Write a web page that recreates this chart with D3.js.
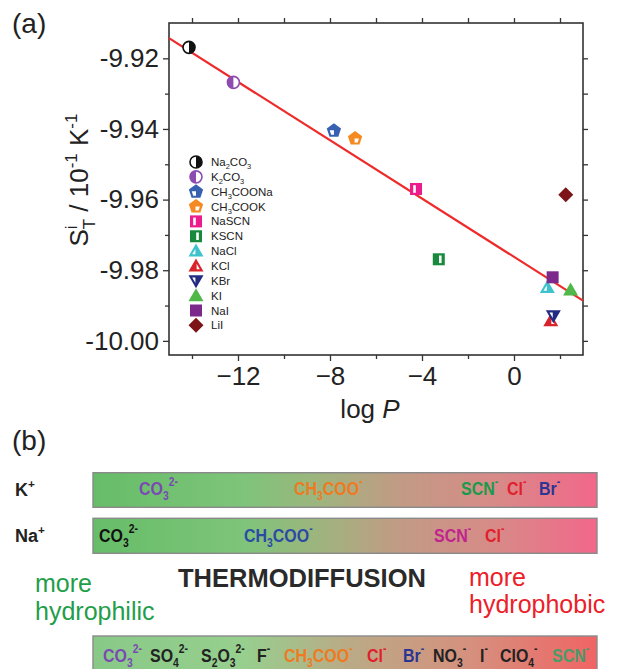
<!DOCTYPE html>
<html>
<head>
<meta charset="utf-8">
<script src="https://cdn.jsdelivr.net/npm/d3@7"></script>
<style>
html,body{margin:0;padding:0;background:#fff;}
svg{display:block;font-family:"Liberation Sans",Arial,sans-serif;}
</style>
</head>
<body>
<svg id="chart" width="621" height="669"></svg>
<script>
// ---------------- DATA ----------------
const salts   = ["Na{_2}CO{_3}","K{_2}CO{_3}","CH{_3}COONa","CH{_3}COOK","NaSCN","KSCN","NaCl","KCl","KBr","KI","NaI","LiI"];
const logP    = [-14.13, -12.2, -7.83, -6.91, -4.26, -3.27, 1.45, 1.60, 1.71, 2.46, 1.68, 2.25];
const sT      = [-9.9169, -9.9268, -9.9405, -9.9427, -9.9570, -9.9769, -9.9849, -9.9943, -9.9929, -9.9856, -9.9820, -9.9586];
const fitX    = [-15, 3];
const fitY    = [-9.9143, -9.9886];
const xMajorTicks = [-12, -8, -4, 0];
const xMinorTicks = [-14, -10, -6, -2, 2];
const yMajorTicks = [-9.92, -9.94, -9.96, -9.98, -10.00];
const yMinorTicks = [-9.93, -9.95, -9.97, -9.99];

const kIons   = ["CO{_3}{^2-}", "CH{_3}COO{^-}", "SCN{^-}", "Cl{^-}", "Br{^-}"];
const naIons  = ["CO{_3}{^2-}", "CH{_3}COO{^-}", "SCN{^-}", "Cl{^-}"];
const hofIons = ["CO{_3}{^2-}", "SO{_4}{^2-}", "S{_2}O{_3}{^2-}", "F{^-}", "CH{_3}COO{^-}", "Cl{^-}", "Br{^-}", "NO{_3}{^-}", "I{^-}", "ClO{_4}{^-}", "SCN{^-}"];

// ---------------- STYLE / LAYOUT ----------------
const markerTypes  = ["circR","circL","pentA","pentB","sqBarL","sqBarR","triL","triR","triDown","tri","sq","diamond"];
const markerColors = ["#111111","#8e4bb0","#3760b0","#f58a22","#ec1c8c","#178a3e","#3ec3cc","#d9232b","#232a82","#4fb848","#7b2a8c","#7d1518"];
const kColors   = ["#7a4ab2","#ee7a22","#1a9a4c","#e0202c","#2b3592"];
const naColors  = ["#111111","#2b4aa4","#c0248e","#e0202c"];
const hofColors = ["#7a4ab2","#222","#222","#222","#ee7a22","#e0202c","#2b3592","#222","#222","#222","#4a9a6a"];
const kPos   = [139, 294, 461, 507, 539];
const naPos  = [99, 244, 434, 485];
const hofPos = [103, 150, 201, 257, 284, 367, 403, 433, 480, 500, 552];

const svg = d3.select("#chart");
const M = {left:169, top:23, right:583, bottom:355};
const x = d3.scaleLinear().domain([-15, 3]).range([M.left, M.right]);
const y = d3.scaleLinear().domain([-10.004, -9.910]).range([M.bottom, M.top]);

// formula helper
function formula(textSel, str, fs) {
  const re = /\{([_^])([^}]*)\}|([^{]+)/g;
  let m, cur = 0;
  while ((m = re.exec(str)) !== null) {
    let t, target, size;
    if (m[3] !== undefined) { t = m[3]; target = 0; size = fs; }
    else if (m[1] === "_") { t = m[2]; target = 0.28*fs; size = fs*0.65; }
    else { t = m[2]; target = -0.45*fs; size = fs*0.65; }
    textSel.append("tspan").attr("dy", target - cur).attr("font-size", size).text(t);
    cur = target;
  }
}

// ---------------- PANEL (a) ----------------
svg.append("text").attr("x", 12).attr("y", 33).attr("font-size", 28).attr("fill","#222").text("(a)");

const axisColor = "#333";
function styleAxis(g){ g.select(".domain").remove(); g.selectAll("line").attr("stroke", axisColor).attr("stroke-width",1.3); }

const gB = svg.append("g").attr("transform", `translate(0,${M.bottom})`)
  .call(d3.axisBottom(x).tickValues(xMajorTicks).tickSize(6).tickPadding(6).tickFormat(d3.format("d")));
gB.call(styleAxis);
gB.selectAll("text").attr("font-size", 26).attr("fill","#222").attr("font-family","Liberation Sans, Arial, sans-serif");
svg.append("g").attr("transform", `translate(0,${M.bottom})`)
  .call(d3.axisBottom(x).tickValues(xMinorTicks).tickSize(4).tickFormat("")).call(styleAxis);
svg.append("g").attr("transform", `translate(0,${M.top})`)
  .call(d3.axisTop(x).tickValues(xMajorTicks.concat(xMinorTicks)).tickSize(5).tickFormat("")).call(styleAxis);

const gL = svg.append("g").attr("transform", `translate(${M.left},0)`)
  .call(d3.axisLeft(y).tickValues(yMajorTicks).tickSize(6).tickPadding(4).tickFormat(d3.format(".2f")));
gL.call(styleAxis);
gL.selectAll("text").attr("font-size", 26).attr("fill","#222").attr("font-family","Liberation Sans, Arial, sans-serif")
  .text(d => d3.format(".2f")(d).replace("−","-"));
svg.append("g").attr("transform", `translate(${M.left},0)`)
  .call(d3.axisLeft(y).tickValues(yMinorTicks).tickSize(4).tickFormat("")).call(styleAxis);
svg.append("g").attr("transform", `translate(${M.right},0)`)
  .call(d3.axisRight(y).tickValues(yMajorTicks.concat(yMinorTicks)).tickSize(5).tickFormat("")).call(styleAxis);

svg.append("rect").attr("x", M.left).attr("y", M.top).attr("width", M.right-M.left).attr("height", M.bottom-M.top)
  .attr("fill","none").attr("stroke", axisColor).attr("stroke-width", 1.6);

// axis titles
const xl = svg.append("text").attr("x", 370).attr("y", 418).attr("text-anchor","middle").attr("font-size", 26).attr("fill","#222");
xl.append("tspan").text("log ");
xl.append("tspan").attr("font-style","italic").text("P");

const yl = svg.append("text").attr("transform","translate(88,180) rotate(-90)").attr("text-anchor","middle").attr("font-size", 26).attr("fill","#222");
yl.append("tspan").text("S");
yl.append("tspan").attr("font-size",17).attr("dy",-11).text("i");
yl.append("tspan").attr("font-size",17).attr("dy",18).attr("dx",-4).text("T");
yl.append("tspan").attr("dy",-7).text(" / 10");
yl.append("tspan").attr("font-size",17).attr("dy",-11).text("-1");
yl.append("tspan").attr("dy",11).text(" K");
yl.append("tspan").attr("font-size",17).attr("dy",-11).text("-1");

// fit line
svg.append("line").attr("x1", x(fitX[0])).attr("y1", y(fitY[0])).attr("x2", x(fitX[1])).attr("y2", y(fitY[1]))
  .attr("stroke","#ee2a2a").attr("stroke-width",2.2);

// markers
function marker(g, type, c) {
  const W = "#fff";
  const poly = pts => pts.map(p => p.join(",")).join(" ");
  const r = 6;
  const pent = R => d3.range(5).map(i => { const a = -Math.PI/2 + i*2*Math.PI/5; return [R*Math.cos(a), R*Math.sin(a)]; });
  switch(type){
    case "circR":
      g.append("circle").attr("r", r).attr("fill", W).attr("stroke", c).attr("stroke-width", 1.6);
      g.append("path").attr("d", `M0,${-r} A${r},${r} 0 0 1 0,${r} Z`).attr("fill", c); break;
    case "circL":
      g.append("circle").attr("r", r).attr("fill", W).attr("stroke", c).attr("stroke-width", 1.6);
      g.append("path").attr("d", `M0,${-r} A${r},${r} 0 0 0 0,${r} Z`).attr("fill", c); break;
    case "pentA":
      g.append("polygon").attr("points", poly(pent(7.5))).attr("fill", c);
      g.append("polygon").attr("points", poly([[-4.2,-0.5],[0,-0.5],[0,4],[-2.8,4]])).attr("fill", W); break;
    case "pentB":
      g.append("polygon").attr("points", poly(pent(7.5))).attr("fill", c);
      g.append("polygon").attr("points", poly([[-0.5,0],[3.8,0],[2.6,4],[-0.5,4]])).attr("fill", W); break;
    case "sqBarL":
      g.append("rect").attr("x",-6).attr("y",-6).attr("width",12).attr("height",12).attr("fill", c);
      g.append("rect").attr("x",-2.8).attr("y",-3.8).attr("width",2.6).attr("height",7.6).attr("fill", W); break;
    case "sqBarR":
      g.append("rect").attr("x",-6).attr("y",-6).attr("width",12).attr("height",12).attr("fill", c);
      g.append("rect").attr("x",0.2).attr("y",-3.8).attr("width",2.6).attr("height",7.6).attr("fill", W); break;
    case "triL":
      g.append("polygon").attr("points", poly([[0,-7.5],[7.5,5.5],[-7.5,5.5]])).attr("fill", c);
      g.append("polygon").attr("points", poly([[-0.6,-2.2],[-0.6,3.2],[-3.8,3.2]])).attr("fill", W); break;
    case "triR":
      g.append("polygon").attr("points", poly([[0,-7.5],[7.5,5.5],[-7.5,5.5]])).attr("fill", c);
      g.append("polygon").attr("points", poly([[0.6,-2.2],[0.6,3.2],[3.8,3.2]])).attr("fill", W); break;
    case "triDown":
      g.append("polygon").attr("points", poly([[-7.5,-5.5],[7.5,-5.5],[0,7.5]])).attr("fill", c);
      g.append("polygon").attr("points", poly([[-3.8,-3.2],[-0.6,-3.2],[-0.6,2.2]])).attr("fill", W); break;
    case "tri":
      g.append("polygon").attr("points", poly([[0,-7.5],[7.5,5.5],[-7.5,5.5]])).attr("fill", c); break;
    case "sq":
      g.append("rect").attr("x",-6).attr("y",-6).attr("width",12).attr("height",12).attr("fill", c); break;
    case "diamond":
      g.append("polygon").attr("points", poly([[0,-7.5],[7.5,0],[0,7.5],[-7.5,0]])).attr("fill", c); break;
  }
}

salts.forEach((s, i) => {
  const g = svg.append("g").attr("transform", `translate(${x(logP[i])},${y(sT[i])})`);
  marker(g, markerTypes[i], markerColors[i]);
});

// legend
const legY0 = 162, legDy = 14.85;
salts.forEach((s, i) => {
  const g = svg.append("g").attr("transform", `translate(196,${legY0 + i*legDy})`);
  marker(g, markerTypes[i], markerColors[i]);
  const t = svg.append("text").attr("x", 211).attr("y", legY0 + i*legDy + 4).attr("font-size", 11.5).attr("fill","#222");
  formula(t, s, 11.5);
});

// ---------------- PANEL (b) ----------------
svg.append("text").attr("x", 12).attr("y", 450).attr("font-size", 28).attr("fill","#222").text("(b)");

const defs = svg.append("defs");
const g1 = defs.append("linearGradient").attr("id","gradA").attr("x1","0").attr("x2","1").attr("y1","0").attr("y2","0");
[[0,"#66bd68"],[0.3,"#7ec47a"],[0.45,"#9eb47e"],[0.6,"#c09c84"],[0.8,"#d88a88"],[1,"#f2678a"]]
  .forEach(s => g1.append("stop").attr("offset", s[0]).attr("stop-color", s[1]));
const g2 = defs.append("linearGradient").attr("id","gradB").attr("x1","0").attr("x2","1").attr("y1","0").attr("y2","0");
[[0,"#88c987"],[0.3,"#97cf8e"],[0.5,"#b9ab86"],[0.75,"#d6907e"],[1,"#f06464"]]
  .forEach(s => g2.append("stop").attr("offset", s[0]).attr("stop-color", s[1]));

function bar(y0, h, grad) {
  svg.append("rect").attr("x", 93).attr("y", y0).attr("width", 504).attr("height", h)
    .attr("fill", `url(#${grad})`).attr("stroke","#8a8a8a").attr("stroke-width",1.4);
}
bar(472.7, 34.6, "gradA");
bar(518.3, 35, "gradA");
bar(636, 40, "gradB");

function ionRow(list, cols, pos, yb, fs, sx) {
  list.forEach((s, i) => {
    const t = svg.append("text").attr("transform", `translate(${pos[i]},${yb}) scale(${sx},1)`)
      .attr("font-size", fs).attr("font-weight","bold").attr("fill", cols[i]);
    formula(t, s, fs);
  });
}
ionRow(kIons, kColors, kPos, 495, 19, 0.84);
ionRow(naIons, naColors, naPos, 542, 19, 0.84);
ionRow(hofIons, hofColors, hofPos, 662, 19, 0.84);

// cation labels
const kl = svg.append("text").attr("x", 15).attr("y", 496).attr("font-size", 18).attr("font-weight","bold").attr("fill","#222");
formula(kl, "K{^+}", 18);
const nl = svg.append("text").attr("x", 15).attr("y", 542).attr("font-size", 18).attr("font-weight","bold").attr("fill","#222");
formula(nl, "Na{^+}", 18);

svg.append("text").attr("x", 178).attr("y", 587).attr("font-size", 25.5).attr("font-weight","bold").attr("fill","#2a2a2a").text("THERMODIFFUSION");
svg.append("text").attr("x", 35).attr("y", 592).attr("font-size", 25).attr("fill","#1f9e4a").text("more");
svg.append("text").attr("x", 35).attr("y", 620).attr("font-size", 25).attr("fill","#1f9e4a").text("hydrophilic");
svg.append("text").attr("x", 469).attr("y", 586).attr("font-size", 25).attr("fill","#ec2028").text("more");
svg.append("text").attr("x", 469).attr("y", 613).attr("font-size", 25).attr("fill","#ec2028").text("hydrophobic");
</script>
</body>
</html>
